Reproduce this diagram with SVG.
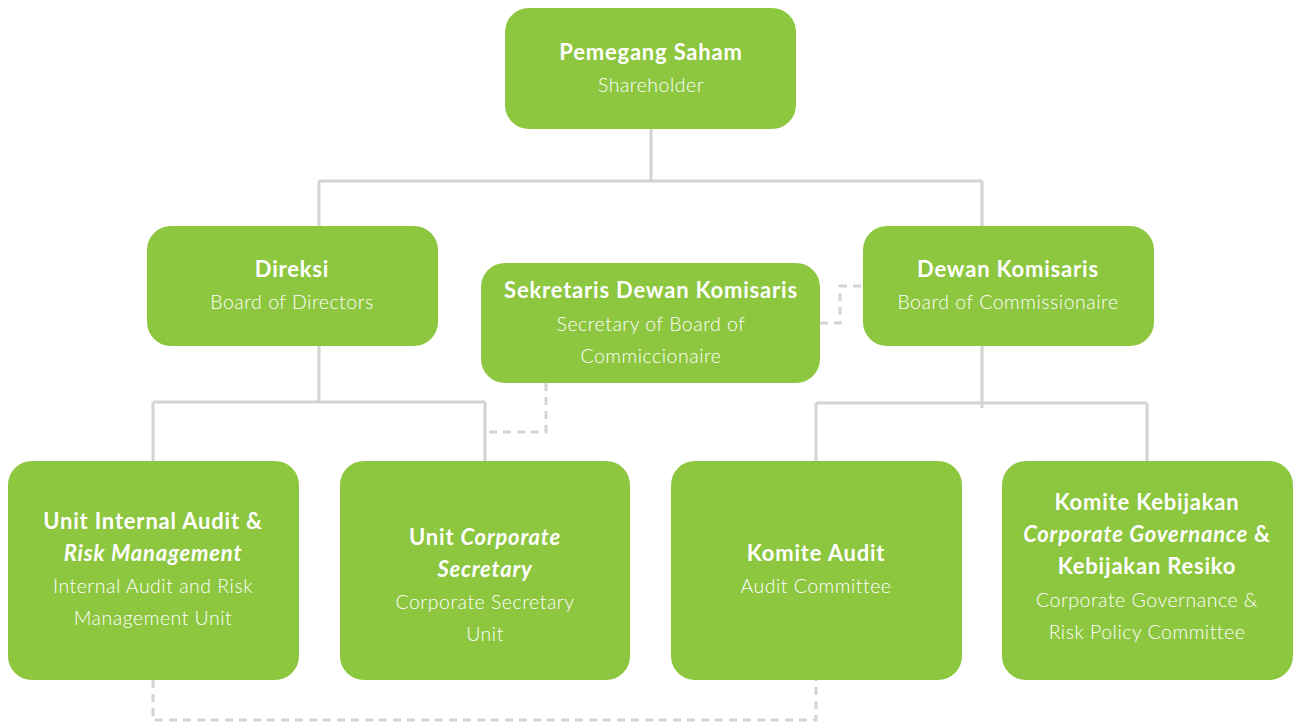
<svg xmlns="http://www.w3.org/2000/svg" width="1293" height="724" viewBox="0 0 1293 724">
  <style>
    .box { fill: #8dc63f; }
    .t { font-family: Lato, "Noto Sans", "Liberation Sans", sans-serif; fill: #ffffff; text-anchor: middle; }
    .h { font-size: 22px; font-weight: 700; letter-spacing: 0.8px; }
    .s { font-size: 19.5px; font-weight: 300; letter-spacing: 0.5px; }
    .i { font-style: italic; }
    .ln { fill: none; stroke: #d3d3d3; stroke-width: 3; }
    .dash { stroke-dasharray: 8 6; }
  </style>
  <rect width="1293" height="724" fill="#ffffff"/>

  <!-- connectors -->
  <g id="connectors">
    <path class="ln" d="M651 129 V181 M319 181 H982 M319 181 V226 M982 181 V226"/>
    <path class="ln" d="M319 346 V402 M153 402 H485 M153 402 V461 M485 402 V461"/>
    <path class="ln" d="M982 346 V408 M816 403 H1147 M816 403 V461 M1147 403 V461"/>
    <path class="ln dash" d="M546 383 V432 H485"/>
    <path class="ln dash" d="M820 323 H840 V286 H863"/>
    <path class="ln dash" d="M153 680 V720 H816 V680"/>
  </g>

  <g id="shareholder">
    <rect class="box" x="505" y="8" width="291" height="121" rx="24"/>
    <text class="t h" x="651" y="60">Pemegang Saham</text>
    <text class="t s" x="651" y="92">Shareholder</text>
  </g>

  <g id="direksi">
    <rect class="box" x="147" y="226" width="291" height="120" rx="24"/>
    <text class="t h" x="292" y="277">Direksi</text>
    <text class="t s" x="292" y="309">Board of Directors</text>
  </g>

  <g id="sekretaris">
    <rect class="box" x="481" y="263" width="339" height="120" rx="24"/>
    <text class="t h" x="651" y="298">Sekretaris Dewan Komisaris</text>
    <text class="t s" x="651" y="331">Secretary of Board of</text>
    <text class="t s" x="651" y="363">Commiccionaire</text>
  </g>

  <g id="dewan">
    <rect class="box" x="863" y="226" width="291" height="120" rx="24"/>
    <text class="t h" x="1008" y="277">Dewan Komisaris</text>
    <text class="t s" x="1008" y="309">Board of Commissionaire</text>
  </g>

  <g id="audit-risk">
    <rect class="box" x="8" y="461" width="291" height="219" rx="24"/>
    <text class="t h" x="153" y="529">Unit Internal Audit &amp;</text>
    <text class="t h i" x="153" y="561">Risk Management</text>
    <text class="t s" x="153" y="593">Internal Audit and Risk</text>
    <text class="t s" x="153" y="625">Management Unit</text>
  </g>

  <g id="corsec">
    <rect class="box" x="340" y="461" width="290" height="219" rx="24"/>
    <text class="t h" x="485" y="545">Unit <tspan class="i">Corporate</tspan></text>
    <text class="t h i" x="485" y="577">Secretary</text>
    <text class="t s" x="485" y="609">Corporate Secretary</text>
    <text class="t s" x="485" y="641">Unit</text>
  </g>

  <g id="komite-audit">
    <rect class="box" x="671" y="461" width="291" height="219" rx="24"/>
    <text class="t h" x="816" y="561">Komite Audit</text>
    <text class="t s" x="816" y="593">Audit Committee</text>
  </g>

  <g id="komite-gcg">
    <rect class="box" x="1002" y="461" width="291" height="219" rx="24"/>
    <text class="t h" x="1147" y="510">Komite Kebijakan</text>
    <text class="t h" x="1147" y="542"><tspan class="i">Corporate Governance</tspan> &amp;</text>
    <text class="t h" x="1147" y="574">Kebijakan Resiko</text>
    <text class="t s" x="1147" y="607">Corporate Governance &amp;</text>
    <text class="t s" x="1147" y="639">Risk Policy Committee</text>
  </g>
</svg>
